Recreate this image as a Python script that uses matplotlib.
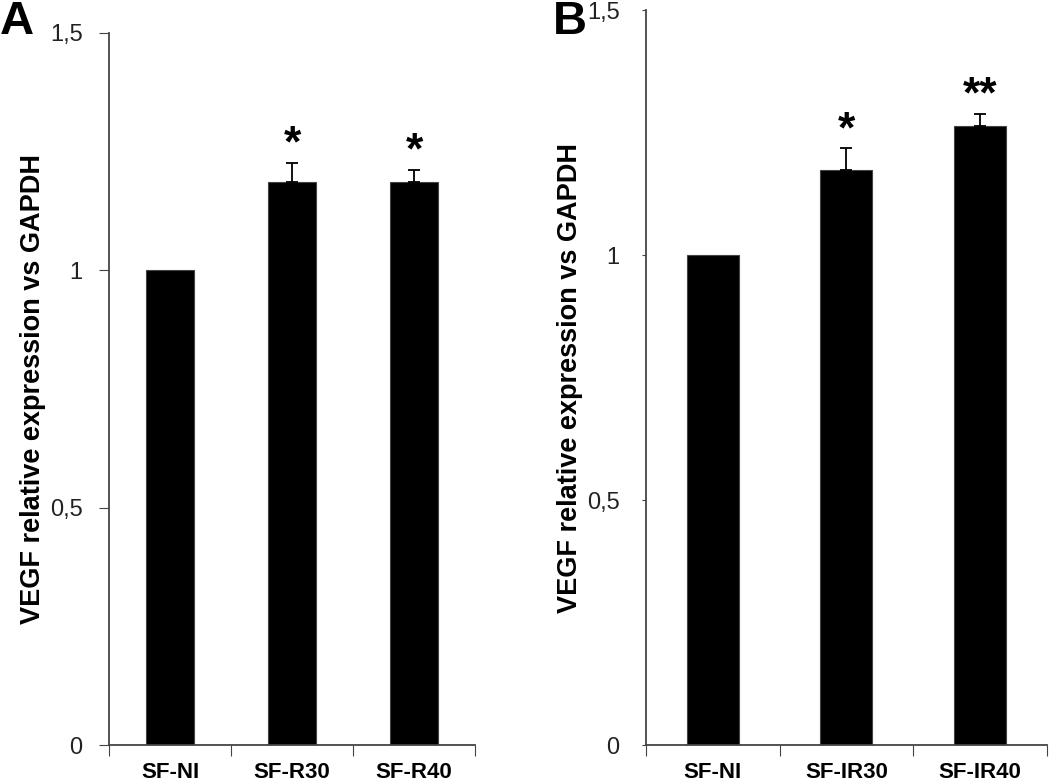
import matplotlib.pyplot as plt
import numpy as np

plt.rcParams['font.family'] = ['Liberation Sans', 'DejaVu Sans']

# Panel A data
cats_a = ['SF-NI', 'SF-R30', 'SF-R40']
vals_a = [1.0, 1.185, 1.185]
err_a = [0.0, 0.042, 0.027]
stars_a = ['', '*', '*']

# Panel B data
cats_b = ['SF-NI', 'SF-IR30', 'SF-IR40']
vals_b = [1.0, 1.173, 1.263]
err_b = [0.0, 0.045, 0.025]
stars_b = ['', '*', '**']

yticks = [0, 0.5, 1, 1.5]
ytick_labels = ['0', '0,5', '1', '1,5']

AXIS_COLOR = '#444444'


def draw_panel(ax, cats, vals, errs, stars, letter, letter_xy, ytick_len):
    """Bar panel with upward error bars and significance stars"""
    x = np.arange(len(cats)) + 0.5
    ax.bar(x, vals, width=0.39, color='black', edgecolor='#444444', linewidth=0.8, zorder=2)
    for xi, v, e in zip(x, vals, errs):
        if e > 0:
            ax.errorbar(xi, v, yerr=[[0], [e]], fmt='none', ecolor='black',
                        elinewidth=1.3, capsize=4, capthick=1.3, zorder=3)
    for xi, v, e, s in zip(x, vals, errs, stars):
        if s:
            ax.annotate(s, (xi, v + e), xytext=(0, -2), textcoords='offset points',
                        ha='center', va='bottom', fontsize=32, fontweight='bold',
                        color='black')

    ax.set_xlim(0, len(cats))
    ax.set_ylim(0, 1.5)
    ax.set_yticks(yticks)
    ax.set_yticklabels(ytick_labels, fontsize=17, color='#222222')
    ax.set_xticks(np.arange(len(cats) + 1))
    ax.set_xticklabels([])
    ax.set_xticks(x, minor=True)
    ax.set_xticklabels(cats, minor=True, fontsize=16, fontweight='bold')
    ax.tick_params(axis='x', which='major', direction='out', length=8,
                   color=AXIS_COLOR)
    ax.tick_params(axis='x', which='minor', length=0, pad=12)
    ax.tick_params(axis='y', direction='out', length=ytick_len, color=AXIS_COLOR,
                   pad=19 - ytick_len)

    for side in ['top', 'right']:
        ax.spines[side].set_visible(False)
    for side in ['left', 'bottom']:
        ax.spines[side].set_color(AXIS_COLOR)
        ax.spines[side].set_linewidth(1.3)

    ax.set_ylabel('VEGF relative expression vs GAPDH', fontsize=19.5,
                  fontweight='bold', labelpad=3)
    ax.figure.text(letter_xy[0], letter_xy[1], letter, fontsize=34,
                   fontweight='bold', ha='left', va='top')


fig = plt.figure(figsize=(10.5, 7.83), dpi=100)
ax_a = fig.add_axes([0.1038, 0.0485, 0.3486, 0.9094])
ax_b = fig.add_axes([0.6152, 0.0485, 0.3818, 0.9387])

draw_panel(ax_a, cats_a, vals_a, err_a, stars_a, 'A', (0.0, 1.0), 7)
draw_panel(ax_b, cats_b, vals_b, err_b, stars_b, 'B', (0.527, 1.0), 3)

fig.savefig('out.png', dpi=100)
